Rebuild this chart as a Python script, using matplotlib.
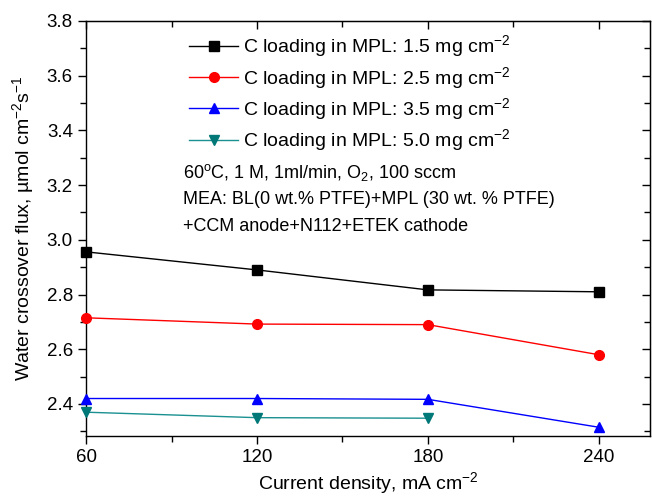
import matplotlib
matplotlib.use("Agg")
import matplotlib.pyplot as plt
from matplotlib.ticker import MultipleLocator, FixedLocator

plt.rcParams['font.family'] = ['Liberation Sans', 'DejaVu Sans']
plt.rcParams['mathtext.fontset'] = 'custom'
plt.rcParams['mathtext.rm'] = 'Liberation Sans'
plt.rcParams['mathtext.it'] = 'Liberation Sans'

x = [60, 120, 180, 240]
c15 = [2.956, 2.890, 2.817, 2.810]
c25 = [2.715, 2.692, 2.690, 2.580]
c35 = [2.420, 2.420, 2.417, 2.315]
x50 = [60, 120, 180]
c50 = [2.370, 2.350, 2.348]
labels = ["C loading in MPL: 1.5 mg cm$^{-2}$",
          "C loading in MPL: 2.5 mg cm$^{-2}$",
          "C loading in MPL: 3.5 mg cm$^{-2}$",
          "C loading in MPL: 5.0 mg cm$^{-2}$"]

fig = plt.figure(figsize=(6.52, 4.98), dpi=100)
ax = fig.add_axes([0.132, 0.1245, 0.865, 0.8335])

kw = dict(lw=1.0, ms=7, clip_on=False, zorder=3)
ax.plot(x, c15, '-s', color='black', label=labels[0], **kw)
ax.plot(x, c25, '-o', color='red', label=labels[1], **kw)
ax.plot(x, c35, '-^', color='blue', label=labels[2], **kw)
ax.plot(x50, c50, '-v', color='#1a9090', mfc='#007878', mec='#007878', label=labels[3], **kw)

ax.set_xlim(60, 258)
ax.set_ylim(2.283, 3.8)
ax.xaxis.set_major_locator(FixedLocator([60, 120, 180, 240]))
ax.xaxis.set_minor_locator(FixedLocator([90, 150, 210]))
ax.yaxis.set_major_locator(MultipleLocator(0.2))
ax.yaxis.set_minor_locator(MultipleLocator(0.1))
ax.yaxis.set_major_formatter(matplotlib.ticker.FormatStrFormatter('%.1f'))
ax.tick_params(which='major', direction='out', length=6, width=1, labelsize=13.5)
ax.tick_params(which='minor', direction='out', length=4, width=1)
for s in ax.spines.values():
    s.set_linewidth(1.0)

top = ax.secondary_xaxis('top')
top.xaxis.set_major_locator(FixedLocator([60, 120, 180, 240]))
top.xaxis.set_minor_locator(FixedLocator([90, 150, 210]))
top.tick_params(which='major', direction='in', length=6, width=1, labeltop=False)
top.tick_params(which='minor', direction='in', length=4, width=1)
right = ax.secondary_yaxis('right')
right.yaxis.set_major_locator(MultipleLocator(0.2))
right.yaxis.set_minor_locator(MultipleLocator(0.1))
right.tick_params(which='major', direction='in', length=6, width=1, labelright=False)
right.tick_params(which='minor', direction='in', length=4, width=1)

ax.set_xlabel("Current density, mA cm$^{-2}$", fontsize=14, labelpad=3)
ax.set_ylabel("Water crossover flux, \u00b5mol cm$^{-2}$s$^{-1}$", fontsize=14, labelpad=8)

leg = ax.legend(loc='upper left', bbox_to_anchor=(0.183, 0.97), frameon=False,
                fontsize=14, handlelength=2.5, handletextpad=0.25, labelspacing=0.28,
                borderaxespad=0, borderpad=0)

ax.text(0.172, 0.636, "60$^{\\mathrm{o}}$C, 1 M, 1ml/min, O$_{2}$, 100 sccm",
        transform=ax.transAxes, fontsize=13, va='center')
ax.text(0.172, 0.569, "MEA: BL(0 wt.% PTFE)+MPL (30 wt. % PTFE)",
        transform=ax.transAxes, fontsize=13, va='center')
ax.text(0.172, 0.504, "+CCM anode+N112+ETEK cathode",
        transform=ax.transAxes, fontsize=13, va='center')

fig.savefig("out.png", dpi=100)
